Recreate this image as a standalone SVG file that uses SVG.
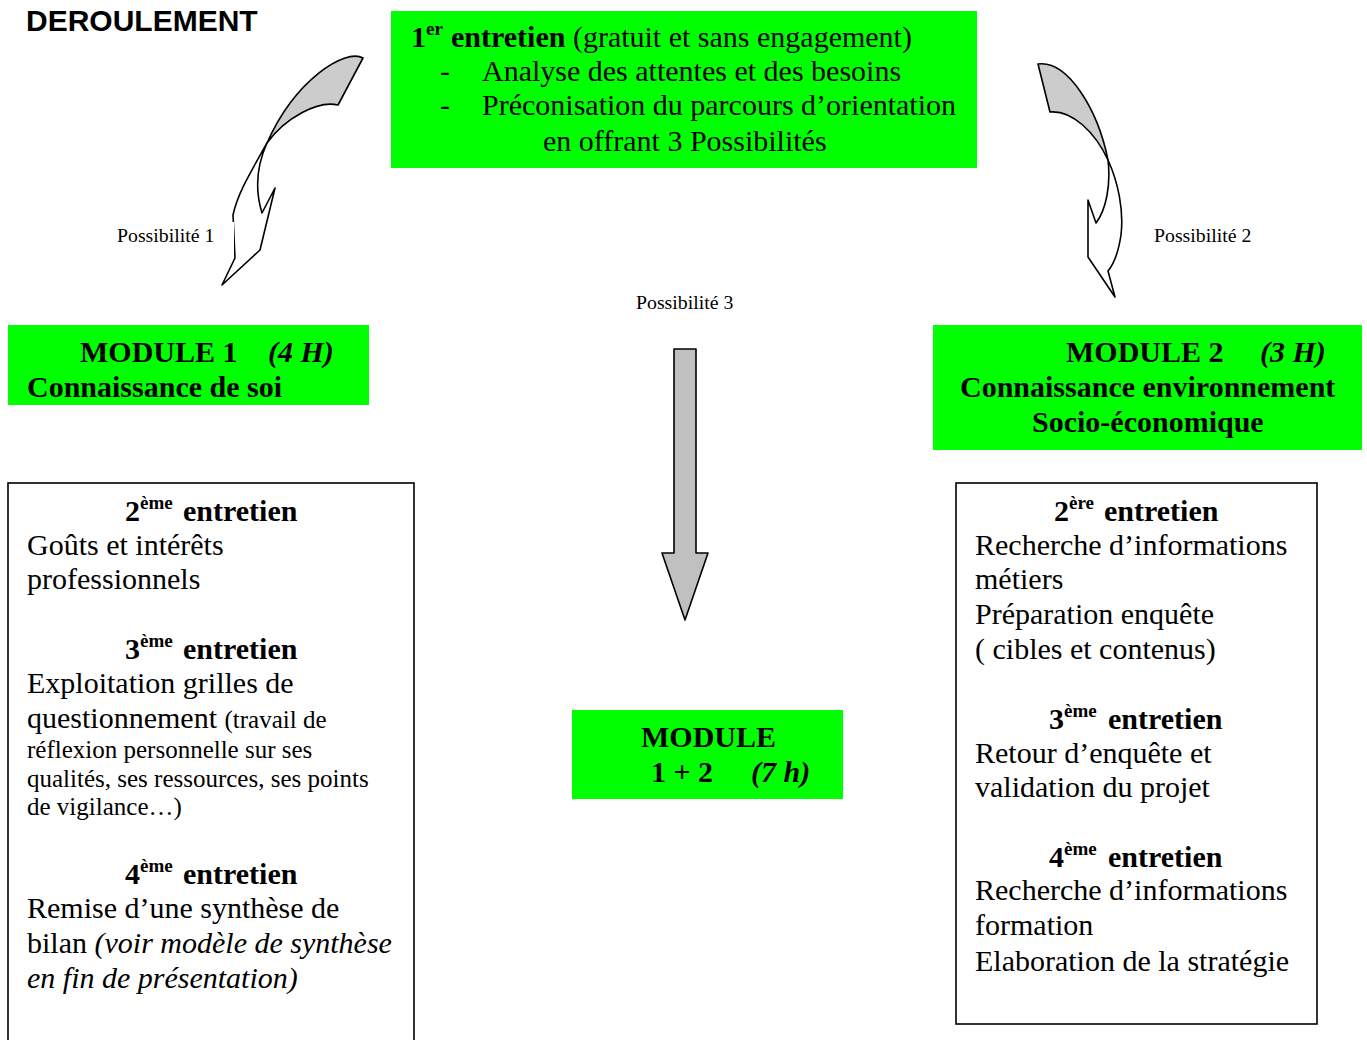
<svg xmlns="http://www.w3.org/2000/svg" width="1367" height="1040" viewBox="0 0 1367 1040">
<style>
.t{font-family:"Liberation Serif","Times New Roman",serif;font-size:30px;fill:#000}
.b{font-weight:bold}
.i{font-style:italic}
.s{font-size:25px}
.sup{font-family:"Liberation Serif","Times New Roman",serif;font-size:19px;font-weight:bold;fill:#000}
.lbl{font-family:"Liberation Serif","Times New Roman",serif;font-size:19.8px;fill:#000}
.green{fill:#00FF00}
.box{fill:#fff;stroke:#000;stroke-width:1.6}
.arr{stroke:#000;stroke-width:1.6;stroke-linejoin:round}
</style>
<rect width="1367" height="1040" fill="#fff"/>
<text x="26" y="31" font-family="Liberation Sans, Arial, sans-serif" font-size="30" font-weight="bold">DEROULEMENT</text>

<g id="connectors">
  <g id="arrow-p1">
    <path class="arr" fill="#fff" d="M267,143 C252,170 238,192 233,215 L235,258 L222,285 L260,250 L275,188 L262,213 C255,190 257,165 267,143 Z"/>
    <path class="arr" fill="#CCCCCC" d="M363,58 C345,48 295,80 267,143 C285,118 318,100 338,105 Z"/>
  </g>
  <g id="arrow-p2">
    <path class="arr" fill="#fff" d="M1108,160 C1118,182 1124,210 1121,235 C1118,255 1113,265 1108,271 L1115,297 L1088,257 L1088,200 L1096,223 C1106,210 1111,185 1108,160 Z"/>
    <path class="arr" fill="#CCCCCC" d="M1038,64 C1068,60 1098,110 1108,160 C1095,132 1072,110 1050,112 Z"/>
  </g>
  <path id="arrow-p3" class="arr" fill="#C0C0C0" d="M674,349 L696,349 L696,553 L708,553 L685,620 L662,553 L674,553 Z"/>
  <rect x="108" y="222" width="126" height="34" fill="#fff"/>
  <text class="lbl" x="117" y="242">Possibilité 1</text>
  <text class="lbl" x="1154" y="242">Possibilité 2</text>
  <text class="lbl" x="636" y="309">Possibilité 3</text>
</g>

<g id="node-entretien1">
  <rect class="green" x="391" y="11" width="586" height="157"/>
  <text class="t b" x="411" y="47">1</text>
  <text class="sup" x="426" y="35">er</text>
  <text class="t" x="451" y="47"><tspan class="b">entretien</tspan> (gratuit et sans engagement)</text>
  <text class="t" x="440" y="81">-</text>
  <text class="t" x="482" y="81">Analyse des attentes et des besoins</text>
  <text class="t" x="440" y="115">-</text>
  <text class="t" x="482" y="115">Préconisation du parcours d’orientation</text>
  <text class="t" x="543" y="151">en offrant 3 Possibilités</text>
</g>

<g id="node-module1">
  <rect class="green" x="8" y="325" width="361" height="80"/>
  <text class="t b" x="80" y="362">MODULE 1</text>
  <text class="t b i" x="268" y="362">(4 H)</text>
  <text class="t b" x="27" y="397">Connaissance de soi</text>
</g>

<g id="node-module2">
  <rect class="green" x="933" y="325" width="429" height="125"/>
  <text class="t b" x="1066" y="362">MODULE 2</text>
  <text class="t b i" x="1260" y="362">(3 H)</text>
  <text class="t b" x="960" y="397">Connaissance environnement</text>
  <text class="t b" x="1032" y="432">Socio-économique</text>
</g>

<g id="node-module12">
  <rect class="green" x="572" y="710" width="271" height="89"/>
  <text class="t b" x="641" y="747">MODULE</text>
  <text class="t b" x="651" y="782">1 + 2</text>
  <text class="t b i" x="751" y="782">(7 h)</text>
</g>

<g id="node-left-details">
  <rect class="box" x="8" y="483" width="406" height="600"/>
  <text class="t b" x="125" y="521">2</text>
  <text class="sup" x="140" y="509">ème</text>
  <text class="t b" x="183" y="521">entretien</text>
  <text class="t" x="27" y="555">Goûts et intérêts</text>
  <text class="t" x="27" y="589">professionnels</text>
  <text class="t b" x="125" y="659">3</text>
  <text class="sup" x="140" y="647">ème</text>
  <text class="t b" x="183" y="659">entretien</text>
  <text class="t" x="27" y="693">Exploitation grilles de</text>
  <text class="t" x="27" y="728">questionnement <tspan class="s">(travail de</tspan></text>
  <text class="t s" x="27" y="758">réflexion personnelle sur ses</text>
  <text class="t s" x="27" y="787">qualités, ses ressources, ses points</text>
  <text class="t s" x="27" y="815">de vigilance…)</text>
  <text class="t b" x="125" y="884">4</text>
  <text class="sup" x="140" y="872">ème</text>
  <text class="t b" x="183" y="884">entretien</text>
  <text class="t" x="27" y="918">Remise d’une synthèse de</text>
  <text class="t" x="27" y="953">bilan <tspan class="i">(voir modèle de synthèse</tspan></text>
  <text class="t i" x="27" y="988">en fin de présentation)</text>
</g>

<g id="node-right-details">
  <rect class="box" x="956" y="483" width="361" height="541"/>
  <text class="t b" x="1054" y="521">2</text>
  <text class="sup" x="1069" y="509">ère</text>
  <text class="t b" x="1104" y="521">entretien</text>
  <text class="t" x="975" y="555">Recherche d’informations</text>
  <text class="t" x="975" y="589">métiers</text>
  <text class="t" x="975" y="624">Préparation enquête</text>
  <text class="t" x="975" y="659">( cibles et contenus)</text>
  <text class="t b" x="1049" y="729">3</text>
  <text class="sup" x="1064" y="717">ème</text>
  <text class="t b" x="1108" y="729">entretien</text>
  <text class="t" x="975" y="763">Retour d’enquête et</text>
  <text class="t" x="975" y="797">validation du projet</text>
  <text class="t b" x="1049" y="867">4</text>
  <text class="sup" x="1064" y="855">ème</text>
  <text class="t b" x="1108" y="867">entretien</text>
  <text class="t" x="975" y="900">Recherche d’informations</text>
  <text class="t" x="975" y="935">formation</text>
  <text class="t" x="975" y="971">Elaboration de la stratégie</text>
</g>
</svg>
